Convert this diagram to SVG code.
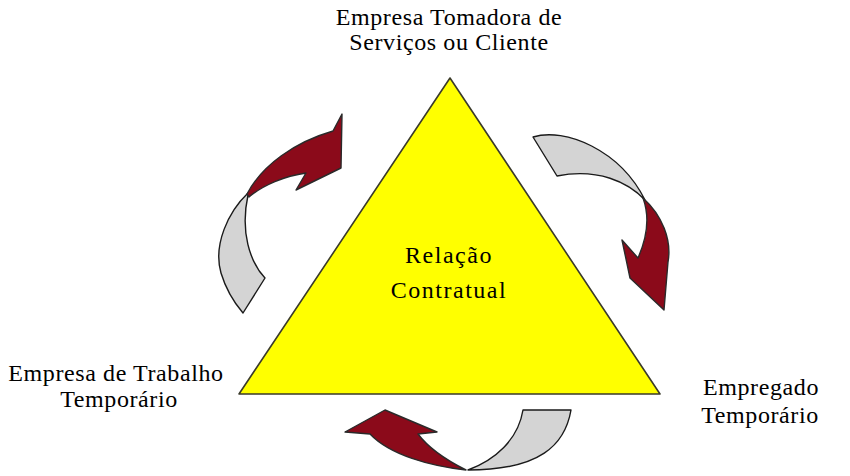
<svg xmlns="http://www.w3.org/2000/svg" width="850" height="476" viewBox="0 0 850 476">
<style>
.lbl{font-family:"Liberation Serif","Times New Roman",serif;font-size:24px;fill:#000;text-anchor:middle;letter-spacing:0.6px}
.tri{fill:#ffff00;stroke:#3a3a2a;stroke-width:1.6;stroke-linejoin:round}
.red{fill:#8b0a1a;stroke:#2a2a2a;stroke-width:1.4;stroke-linejoin:round}
.gray{fill:#d4d4d4;stroke:#1a1a1a;stroke-width:1.4;stroke-linejoin:round}
</style>
<rect width="850" height="476" fill="#ffffff"/>
<g id="triangle">
<polygon class="tri" points="450,78 660,394 239,394"/>
<text class="lbl" x="449" y="263" style="letter-spacing:1.5px">Relação</text>
<text class="lbl" x="449" y="298" style="letter-spacing:1.5px">Contratual</text>
</g>
<g id="top-label">
<text class="lbl" x="449" y="25">Empresa Tomadora de</text>
<text class="lbl" x="449" y="50">Serviços ou Cliente</text>
</g>
<g id="left-label">
<text class="lbl" x="116" y="381">Empresa de Trabalho</text>
<text class="lbl" x="119" y="407">Temporário</text>
</g>
<g id="right-label">
<text class="lbl" x="761" y="395">Empregado</text>
<text class="lbl" x="760" y="423">Temporário</text>
</g>
<g id="connectors">
<g id="arrow-left">
<path class="gray" d="M248,193 C228,212 213,245 221,273 C227,293 237,306 243,313 L265,278 C250,262 240,232 248,195 Z"/>
<path class="red" d="M247,194 C262,165 295,142 333,131 L342,114 L341,168 L296,190 L306,173 C285,176 263,185 249,197 Z"/>
</g>
<g id="arrow-right">
<path class="gray" d="M533,137 C565,127 620,150 645,200 C628,182 598,168 557,176 Z"/>
<path class="red" d="M643,198 C662,215 672,240 668,262 L664,310 L630,278 L622,240 L638,258 C646,240 651,220 643,198 Z"/>
</g>
<g id="arrow-bottom">
<path class="gray" d="M523,410 L571,410 C565,445 540,470 468,470 C495,460 518,440 523,410 Z"/>
<path class="red" d="M466,470 C430,466 390,455 370,434 L345,432 L385,410 L437,432 L418,434 C430,450 450,462 466,470 Z"/>
</g>
</g>
</svg>
